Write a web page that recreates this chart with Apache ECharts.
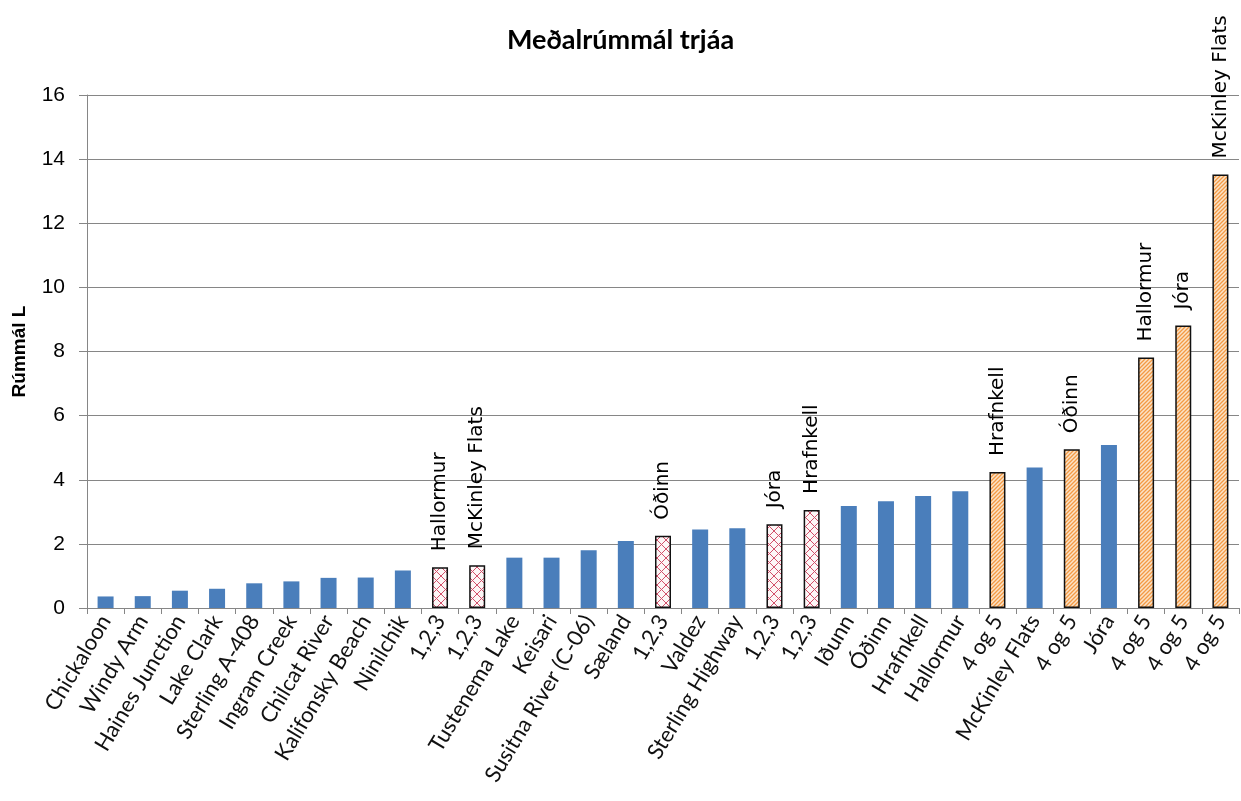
<!DOCTYPE html>
<html>
<head>
<meta charset="utf-8">
<script src="https://cdn.jsdelivr.net/npm/echarts@6/dist/echarts.min.js"></script>
<style>
  html, body { margin: 0; padding: 0; background: #fff; }
  #chart { width: 1241px; height: 801px; }
</style>
</head>
<body>
<div id="chart"></div>
<script>
// Tree sites / provenances, sorted by mean tree volume
const categories = [
  'Chickaloon', 'Windy Arm', 'Haines Junction', 'Lake Clark', 'Sterling A-408',
  'Ingram Creek', 'Chilcat River', 'Kalifonsky Beach', 'Ninilchik', '1,2,3',
  '1,2,3', 'Tustenema Lake', 'Keisari', 'Susitna River (C-06)', 'Sæland',
  '1,2,3', 'Valdez', 'Sterling Highway', '1,2,3', '1,2,3',
  'Iðunn', 'Óðinn', 'Hrafnkell', 'Hallormur', '4 og 5',
  'McKinley Flats', '4 og 5', 'Jóra', '4 og 5', '4 og 5', '4 og 5'
];

// Mean volume (litres)
const volumes = [
  0.36, 0.37, 0.54, 0.60, 0.77,
  0.83, 0.94, 0.95, 1.17, 1.27,
  1.33, 1.57, 1.57, 1.80, 2.09,
  2.25, 2.45, 2.49, 2.61, 3.06,
  3.18, 3.33, 3.49, 3.64, 4.24,
  4.38, 4.95, 5.08, 7.81, 8.81, 13.52
];

// Bar kind: 'site', 'g123' (ages 1,2,3) or 'g45' (ages 4 and 5)
const kinds = [
  'site', 'site', 'site', 'site', 'site',
  'site', 'site', 'site', 'site', 'g123',
  'g123', 'site', 'site', 'site', 'site',
  'g123', 'site', 'site', 'g123', 'g123',
  'site', 'site', 'site', 'site', 'g45',
  'site', 'g45', 'site', 'g45', 'g45', 'g45'
];

// Clone names written above the grouped bars
const clones = [
  '', '', '', '', '',
  '', '', '', '', 'Hallormur',
  'McKinley Flats', '', '', '', '',
  'Óðinn', '', '', 'Jóra', 'Hrafnkell',
  '', '', '', '', 'Hrafnkell',
  '', 'Óðinn', '', 'Hallormur', 'Jóra', 'McKinley Flats'
];

const yTicks = { min: 0, max: 16, step: 2 };

// Tiled fill patterns
function makeTile(size, bg, stroke, lw, cross) {
  const c = document.createElement('canvas');
  c.width = size; c.height = size;
  const ctx = c.getContext('2d');
  ctx.fillStyle = bg;
  ctx.fillRect(0, 0, size, size);
  ctx.strokeStyle = stroke;
  ctx.lineWidth = lw;
  ctx.beginPath();
  // "/" direction
  ctx.moveTo(0, size); ctx.lineTo(size, 0);
  ctx.moveTo(-size / 2, size / 2); ctx.lineTo(size / 2, -size / 2);
  ctx.moveTo(size / 2, size * 1.5); ctx.lineTo(size * 1.5, size / 2);
  if (cross) {
    // "\" direction
    ctx.moveTo(0, 0); ctx.lineTo(size, size);
    ctx.moveTo(-size / 2, size / 2); ctx.lineTo(size / 2, size * 1.5);
    ctx.moveTo(size / 2, -size / 2); ctx.lineTo(size * 1.5, size / 2);
  }
  ctx.stroke();
  return c;
}

const crossFill = { image: makeTile(9, '#fdf6f6', '#d2506a', 1, true), repeat: 'repeat' };
const stripeFill = { image: makeTile(4, '#fbe3c8', '#f39a45', 1.3, false), repeat: 'repeat' };

const styles = {
  site: { color: '#4a7ebb', borderWidth: 0 },
  g123: { color: crossFill, borderColor: '#111', borderWidth: 1.5 },
  g45: { color: stripeFill, borderColor: '#111', borderWidth: 1.5 }
};

const seriesData = volumes.map((v, i) => ({
  value: v,
  itemStyle: styles[kinds[i]],
  label: clones[i] ? { show: true, formatter: clones[i] } : { show: false }
}));

const chart = echarts.init(document.getElementById('chart'), null, { renderer: 'canvas' });

chart.setOption({
  backgroundColor: '#ffffff',
  animation: false,
  title: {
    text: 'Meðalrúmmál trjáa',
    left: 'center',
    top: 22,
    textStyle: { fontFamily: 'Lato', fontWeight: 'bold', fontSize: 27, color: '#000' }
  },
  grid: { left: 87, right: 2, top: 95, bottom: 193, containLabel: false },
  xAxis: {
    type: 'category',
    data: categories,
    boundaryGap: true,
    axisLine: { lineStyle: { color: '#868686', width: 1 } },
    axisTick: { show: true, alignWithLabel: false, length: 6, lineStyle: { color: '#868686' } },
    axisLabel: {
      interval: 0,
      rotate: 59,
      margin: 9,
      fontFamily: 'Lato',
      fontSize: 22,
      color: '#111'
    }
  },
  yAxis: {
    type: 'value',
    min: yTicks.min,
    max: yTicks.max,
    interval: yTicks.step,
    name: 'Rúmmál L',
    nameLocation: 'middle',
    nameGap: 58,
    nameRotate: 90,
    nameTextStyle: { fontFamily: 'Liberation Sans', fontWeight: 'bold', fontSize: 19, color: '#000' },
    axisLine: { show: true, lineStyle: { color: '#868686', width: 1 } },
    axisTick: { show: true, inside: false, length: 8, lineStyle: { color: '#868686' } },
    axisLabel: { fontFamily: 'Liberation Sans', fontSize: 21, color: '#000', margin: 22 },
    splitLine: { show: true, lineStyle: { color: '#868686', width: 1 } }
  },
  series: [{
    type: 'bar',
    data: seriesData,
    barWidth: 16,
    label: {
      position: 'top',
      rotate: 90,
      align: 'left',
      verticalAlign: 'middle',
      distance: 16,
      fontFamily: 'DejaVu Sans',
      fontSize: 20,
      color: '#000'
    }
  }]
});
</script>
</body>
</html>
